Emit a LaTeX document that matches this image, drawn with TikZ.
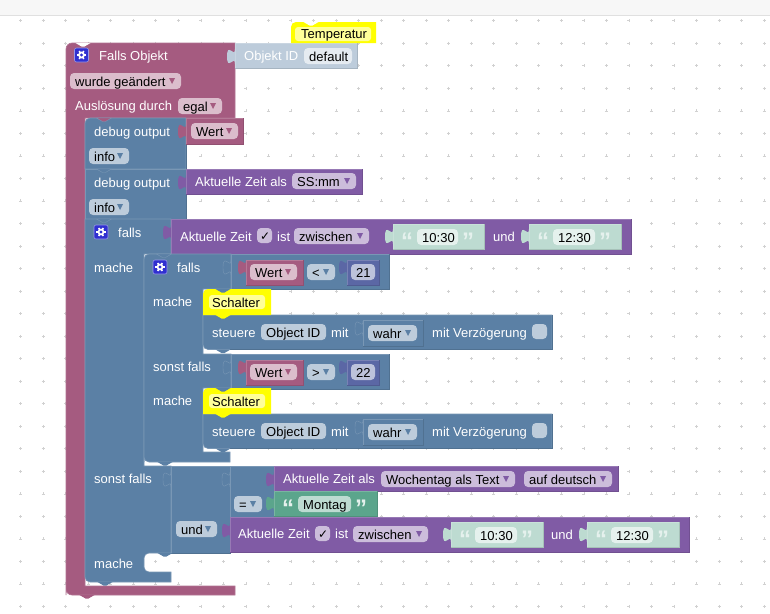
\documentclass[tikz,border=0pt]{standalone}
\usepackage{fontspec}
\setmainfont{Liberation Sans}
\newfontfamily\checkfont{DejaVu Sans}
\definecolor{mauveblk}{HTML}{A55B80}
\definecolor{blueblk}{HTML}{5B80A5}
\definecolor{purpleblk}{HTML}{805BA5}
\definecolor{greenblk}{HTML}{5BA58C}
\definecolor{numblk}{HTML}{5B67A5}
\definecolor{strshade}{HTML}{BDDBD1}
\definecolor{strface}{HTML}{E5F1ED}
\definecolor{objshade}{HTML}{BDCCDB}
\definecolor{objface}{HTML}{E5EBF1}
\definecolor{comyellow}{HTML}{FFFF00}
\definecolor{comface}{HTML}{FFFF99}
\definecolor{iconblue}{HTML}{3030D0}
\tikzset{
	every node/.style={inner sep=0pt, font=\fontsize{13}{15}\selectfont},
	lab/.style={text=white, anchor=base west},
	fldtxt/.style={text=black, anchor=base west},
	griddot/.style={draw=black!18, line width=0.6pt},
	mauveedge/.style={fill=mauveblk, draw=mauveblk!85!white, line width=0.6pt},
	blueedge/.style={fill=blueblk, draw=blueblk!82!white, line width=0.6pt},
	quotemark/.style={text=strface, anchor=base, font=\fontsize{24}{24}\bfseries\selectfont},
}
% rectangle block with light top/left and dark bottom/right
\def\blockbox[#1](#2,#3)(#4,#5){
	\fill[#1] (#2,#3) rectangle (#4,#5);
	\draw[#1!82!white, line width=0.6pt] (#2,#5) -- (#2,#3) -- (#4,#3);
	\draw[#1!88!black, line width=0.8pt] (#4,#3) -- (#4,#5) -- (#2,#5);
}
\def\puztab[#1](#2,#3){\path[#1,shift={(#2,#3)}] (0,0) .. controls (0,10) and (-8,-8) .. (-8,7.5) .. controls (-8,23) and (0,5) .. (0,15) -- cycle;}
\def\notch[#1](#2,#3){\path[#1] (#2-7.5,#3) -- (#2-1.5,#3+3.5) -- (#2+1.5,#3+3.5) -- (#2+7.5,#3) -- cycle;}
\def\txfield[#1](#2,#3,#4)#5#6{
	\fill[#1, rounded corners=4pt] (#2,#4) rectangle (#3,#4+16);
	\node (#5) [fldtxt] at (#2+5,#4+13) {#6};
}
\def\ddfield[#1](#2,#3,#4)#5#6{
	\txfield[#1!40!white](#2,#3,#4){#5}{#6}
	\fill[#1] (#3-12,#4+5) -- (#3-6,#4+5) -- (#3-9,#4+11) -- cycle;
}
\def\strblock[#1,#2](#3,#4,#5)#6#7{
	\puztab[fill=#1](#3,#5+5)
	\blockbox[#1](#3,#5)(#4,#5+25)
	\node (#6l) [quotemark] at (#3+14,#5+25) {“};
	\node (#6r) [quotemark] at (#4-16,#5+25) {”};
	\txfield[#2](#3+24,#4-26,#5+5){#6}{#7}
}
\def\gearicon(#1,#2){
	\draw[fill=iconblue, draw=iconblue!50!white, line width=0.6pt, rounded corners=2pt] (#1-7,#2-7) rectangle (#1+7,#2+7);
	\foreach \a in {0,60,...,300}
		\draw[white, line width=1.6pt] (#1,#2) -- ++(\a:4.6);
	\fill[white] (#1,#2) circle (3.4);
	\fill[iconblue] (#1,#2) circle (1.6);
}

\begin{document}
\begin{tikzpicture}[x=1pt, y=-1pt]
	%%%%% START %%%%%
	\useasboundingbox (0,0) rectangle (770,613);
	\fill[white] (0,0) rectangle (770,613);
	\fill[black!3] (0,0) rectangle (770,15);
	\draw[black!12, line width=1pt] (0,15) -- (770,15);
	
	% workspace dots
	\foreach \i in {0,...,33}
		\foreach \j in {0,...,26}
			\draw[griddot] ({20.6+22.53*\i-1.5},{20.7+22.53*\j}) -- ++(3,0) ++(-1.5,-1.5) -- ++(0,3);
	
	% trigger block
	\path[mauveedge] (66,595) [rounded corners=6pt] -- (66,43) [sharp corners] -- (235,43) -- (235,118) -- (85,118) -- (85,586) -- (235,586) -- (235,595) [rounded corners=6pt] -- (66,595) [sharp corners] -- cycle;
	\notch[fill=white](83,43)
	\notch[fill=mauveblk](87,595)
	\gearicon(81.5,55)
	\node (fallsobj) [lab] at (99,60) {Falls Objekt};
	\ddfield[mauveblk](70,181,73){geaendert}{wurde geändert}
	\node (ausl) [lab] at (75,110) {Auslösung durch};
	\ddfield[mauveblk](178,222,98){egal}{egal}
	\puztab[fill=objshade](235,49)
	\blockbox[objshade](235,43)(357,68)
	\node (objid) [lab] at (244,60) {Objekt ID};
	\txfield[objface](304,352,48){default}{default}
	
	% comment
	\path[fill=comyellow] (291,43) [rounded corners=5pt] -- (291,22) [sharp corners] -- (376,22) -- (376,43) -- cycle;
	\notch[fill=white](311,22)
	\fill[comface, rounded corners=3pt] (295,27) rectangle (371,41);
	\node (temperatur) [fldtxt] at (301,38) {Temperatur};
	
	% debug output 1
	\path[blueedge] (85,169) [rounded corners=5pt] -- (85,118) [sharp corners] -- (186,118) -- (186,169) -- cycle;
	\draw[blueblk!88!black, line width=0.8pt] (186,118) -- (186,169);
	\notch[fill=mauveblk, draw=blueblk!82!white](104,118)
	\node (debugA) [lab] at (94,136) {debug output};
	\ddfield[blueblk](89,129,148){infoA}{info}
	\puztab[fill=mauveblk](186,124)
	\blockbox[mauveblk](186,118)(243,144)
	\ddfield[mauveblk](191,238,123){wertA}{Wert}
	
	% debug output 2
	\blockbox[blueblk](85,169)(186,219)
	\notch[fill=blueblk, draw=blueblk!82!white](104,169)
	\node (debugB) [lab] at (94,187) {debug output};
	\ddfield[blueblk](89,129,199){infoB}{info}
	\puztab[fill=purpleblk](186,175)
	\blockbox[purpleblk](186,169)(362,194)
	\node (zeitals) [lab] at (195,186) {Aktuelle Zeit als};
	\ddfield[purpleblk](292,356,173){ssmm}{SS:mm}
	
	% outer if
	\path[blueedge] (85,219) -- (171,219) -- (171,254) -- (144,254) -- (144,466) -- (171,466) -- (171,553) [rounded corners=5pt] -- (144,553) -- (144,572) [sharp corners] -- (171,572) -- (171,582) [rounded corners=5pt] -- (85,582) [sharp corners] -- cycle;
	\notch[fill=blueblk, draw=blueblk!82!white](104,219)
	\notch[fill=blueblk](105,582)
	\gearicon(101,232)
	\node (fallsA) [lab] at (118,237) {falls};
	\node (macheA) [lab] at (94,272) {mache};
	\puztab[fill=purpleblk](171,225)
	\blockbox[purpleblk](171,219)(631,254)
	\node (zeitA) [lab] at (180,241) {Aktuelle Zeit};
	\fill[purpleblk!40!white, rounded corners=4pt] (257,228) rectangle (272,243);
	\node (chkA) [fldtxt, font=\checkfont\fontsize{12}{13}\selectfont] at (260,240) {✓};
	\node (istA) [lab] at (277,241) {ist};
	\ddfield[purpleblk](294,369,228){zwA}{zwischen}
	\strblock[strshade,strface](393,484,224){tA}{10:30}
	\node (undA) [lab] at (493,241) {und};
	\strblock[strshade,strface](529,621,224){tB}{12:30}
	
	% inner if
	\path[blueedge] (144,462) [rounded corners=5pt] -- (144,254) [sharp corners] -- (231,254) -- (231,289) -- (203,289) -- (203,354) -- (231,354) -- (231,388) -- (203,388) -- (203,452) -- (230,452) -- (230,462) [rounded corners=5pt] -- (144,462) [sharp corners] -- cycle;
	\notch[fill=blueblk, draw=blueblk!82!white](164,254)
	\notch[fill=blueblk](165,462)
	\gearicon(160,267)
	\node (fallsB) [lab] at (177,272) {falls};
	\node (macheB) [lab] at (153,306) {mache};
	\node (sonstB) [lab] at (153,371) {sonst falls};
	\node (macheC) [lab] at (153,405) {mache};
	
	% compare rows
	\foreach \yy/\op/\val in {254/</21, 354/>/22} {
		\puztab[fill=blueblk, draw=blueblk!82!white](231,\yy+6)
		\blockbox[blueblk](231,\yy)(389,\yy+35)
		\puztab[fill=mauveblk](246,\yy+6)
		\blockbox[mauveblk](246,\yy+6)(303,\yy+31)
		\ddfield[mauveblk](250,297,\yy+10){w\yy}{Wert}
		\ddfield[blueblk](307,335,\yy+10){op\yy}{\op}
		\puztab[fill=numblk](347,\yy+6)
		\blockbox[numblk](347,\yy+6)(379,\yy+31)
		\txfield[numblk!40!white](351,375,\yy+10){n\yy}{\val}
	}
	
	% comment + steuere, twice
	\foreach \yy/\nn in {289/A, 388/B} {
		\path[fill=blueblk, draw=blueblk!82!white, line width=0.6pt] (203,\yy+26) -- (552,\yy+26) -- (552,\yy+60.5) [rounded corners=5pt] -- (203,\yy+60.5) [sharp corners] -- cycle;
		\draw[blueblk!88!black, line width=0.8pt] (552,\yy+26) -- (552,\yy+60.5) -- (230,\yy+60.5);
		\notch[fill=blueblk](223,\yy+60.5)
		\path[fill=comyellow] (203,\yy+26) [rounded corners=5pt] -- (203,\yy) [sharp corners] -- (271,\yy) -- (271,\yy+26) -- cycle;
		\notch[fill=blueblk](223,\yy)
		\notch[fill=comyellow](223,\yy+26)
		\fill[comface, rounded corners=3pt] (209,\yy+6) rectangle (265,\yy+20);
		\node (sch\nn) [fldtxt] at (212,\yy+18) {Schalter};
		\node (st\nn) [lab] at (212,\yy+48) {steuere};
		\txfield[blueblk!40!white](261,326,\yy+35){oid\nn}{Object ID}
		\node (mit\nn) [lab] at (331,\yy+48) {mit};
		\puztab[fill=blueblk, draw=blueblk!82!white](363,\yy+32)
		\blockbox[blueblk](363,\yy+31)(423,\yy+57)
		\ddfield[blueblk](368,417,\yy+36){wahr\nn}{wahr}
		\node (verz\nn) [lab] at (432,\yy+48) {mit Verzögerung};
		\fill[objshade, rounded corners=4pt] (532,\yy+35) rectangle (547,\yy+50);
	}
	
	% else-if row
	\node (sonstA) [lab] at (94,483) {sonst falls};
	\node (macheD) [lab] at (94,568) {mache};
	\puztab[fill=blueblk, draw=blueblk!82!white](171,472)
	\blockbox[blueblk](171,466)(230,553)
	\notch[fill=blueblk](165,553)
	\ddfield[blueblk](176,217,521){undB}{und}
	\puztab[fill=blueblk, draw=blueblk!82!white](230,472)
	\blockbox[blueblk](230,466)(274,517)
	\ddfield[blueblk](234,262,496){eq}{=}
	\puztab[fill=purpleblk](274,472)
	\blockbox[purpleblk](274,466)(618,491)
	\node (zeitB) [lab] at (283,483) {Aktuelle Zeit als};
	\ddfield[purpleblk](381,515,471){wtag}{Wochentag als Text}
	\ddfield[purpleblk](524,612,471){deutsch}{auf deutsch}
	\strblock[greenblk,strshade](274,377,491){mon}{Montag}
	\puztab[fill=purpleblk](230,523)
	\blockbox[purpleblk](230,517)(689,552)
	\node (zeitC) [lab] at (238,538) {Aktuelle Zeit};
	\fill[purpleblk!40!white, rounded corners=4pt] (315,526) rectangle (330,541);
	\node (chkB) [fldtxt, font=\checkfont\fontsize{12}{13}\selectfont] at (318,538) {✓};
	\node (istB) [lab] at (335,538) {ist};
	\ddfield[purpleblk](353,428,526){zwB}{zwischen}
	\strblock[strshade,strface](451,543,522){tC}{10:30}
	\node (undC) [lab] at (551,539) {und};
	\strblock[strshade,strface](587,679,522){tD}{12:30}
	%%%%% END %%%%%
\end{tikzpicture}
\end{document}
